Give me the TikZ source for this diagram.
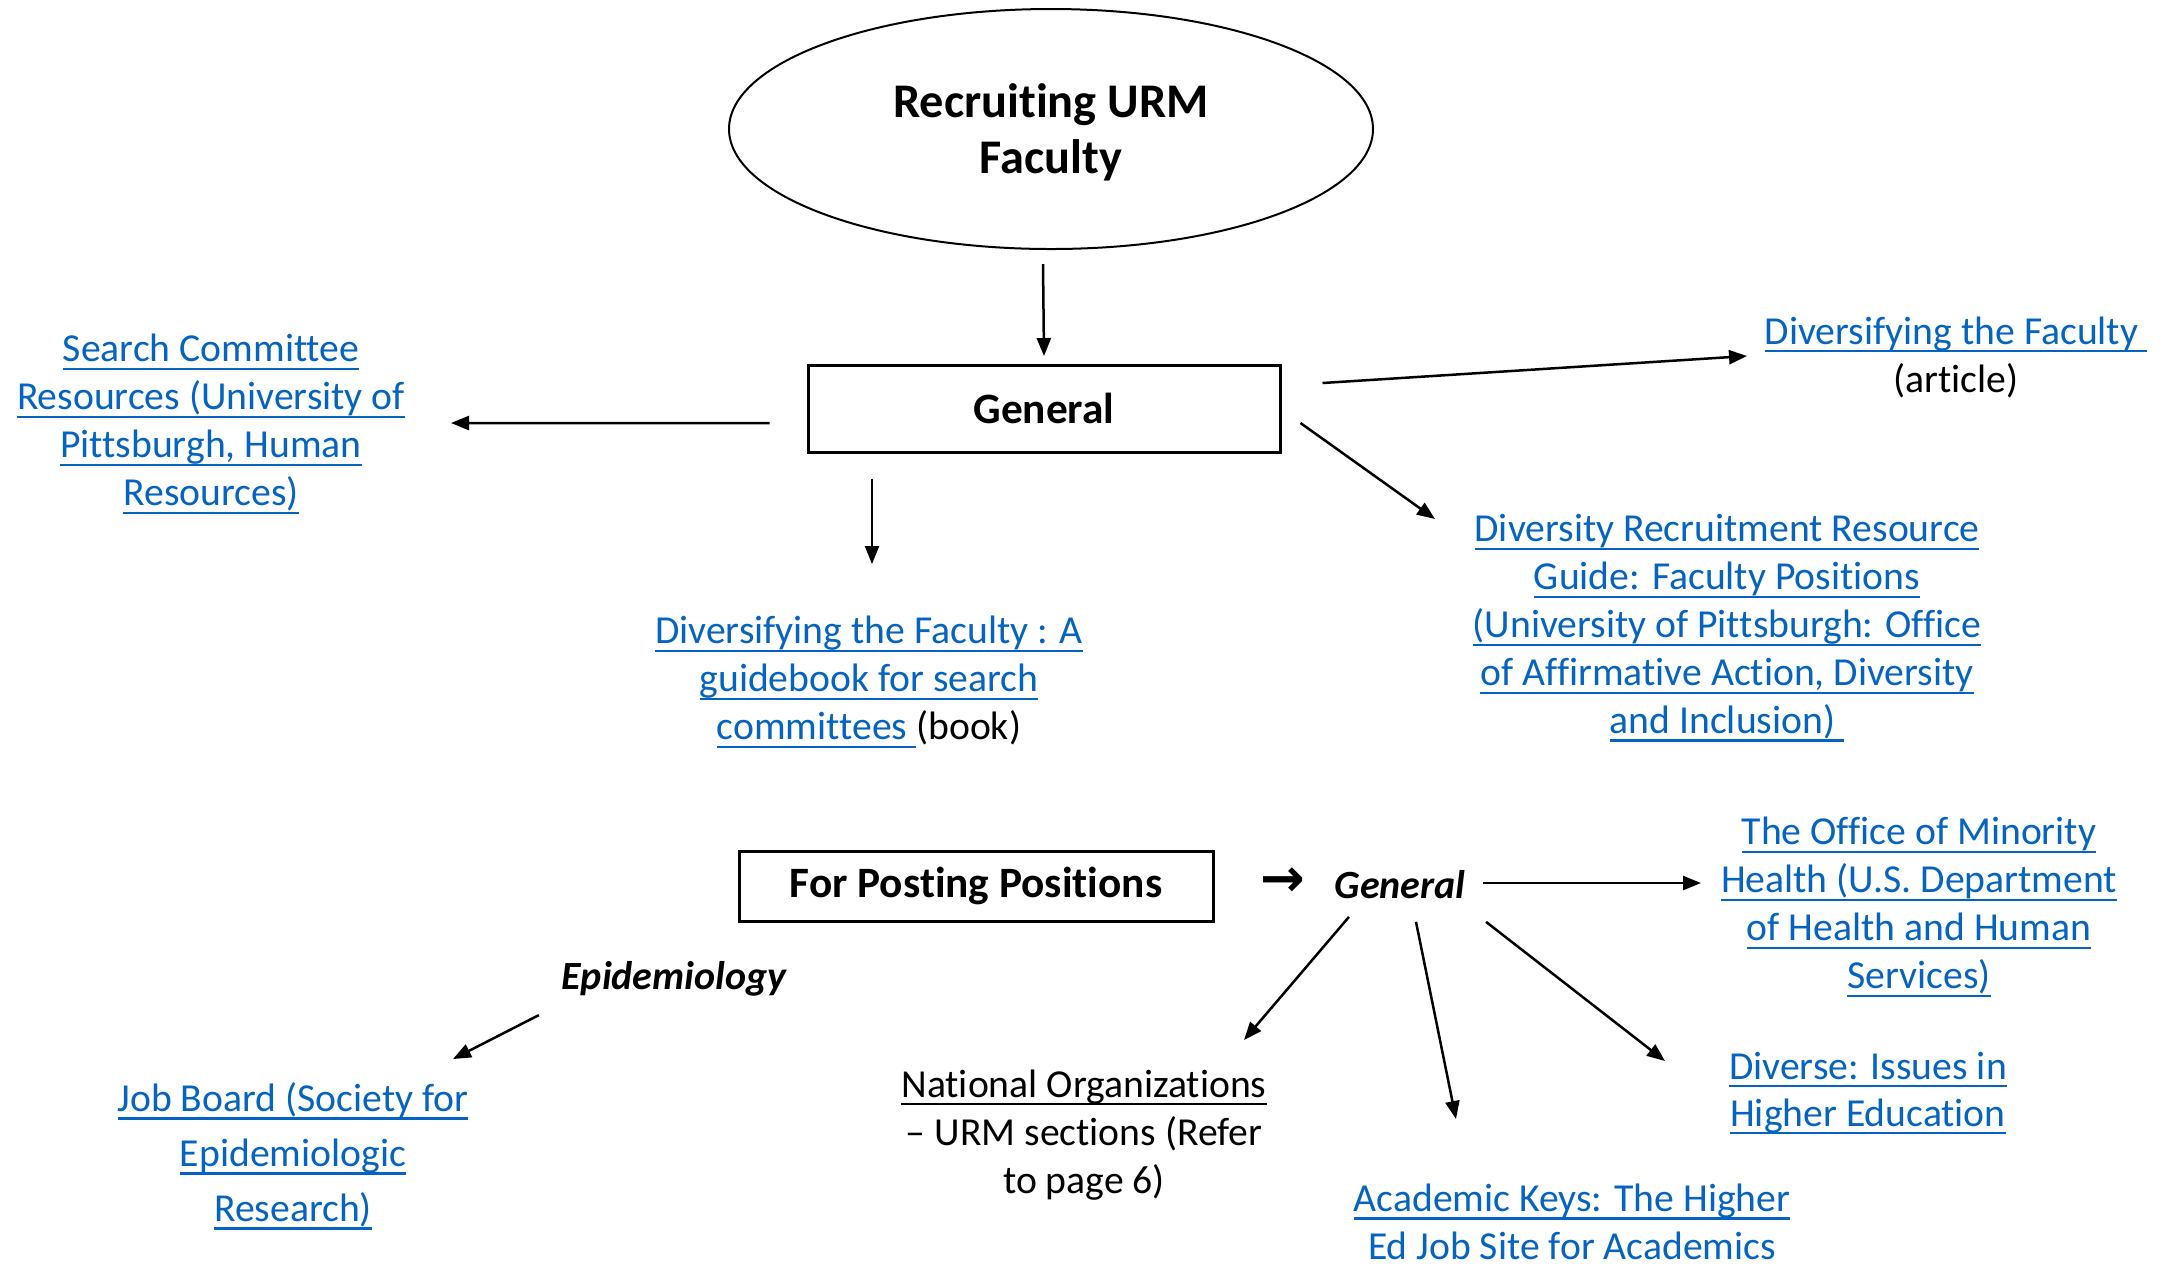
\documentclass[tikz,border=0pt]{standalone}
\usepackage{fontspec}
\setmainfont[Ligatures=NoCommon]{Carlito}
\newfontfamily\symfont{DejaVu Sans}
\usetikzlibrary{shapes.geometric,arrows.meta,calc}
\definecolor{link}{HTML}{0563C1}
\newcommand{\myul}[1]{\setbox0\hbox{#1}\rlap{\rule[-2.4pt]{\wd0}{0.65pt}}\box0}
\newcommand{\lk}[1]{\textcolor{link}{\myul{#1}}}
\newcommand{\pl}[1]{\myul{#1}}
\begin{document}
\begin{tikzpicture}[x=0.3pt,y=-0.3pt,
  txt/.style={align=center, font=\fontsize{11.9pt}{14.4pt}\selectfont, inner sep=0pt},
  boxnode/.style={draw, line width=0.9pt, font=\fontsize{13pt}{15pt}\selectfont\bfseries, inner sep=0pt},
  arr/.style={-{Triangle[length=5.4pt,width=4.2pt]}, line width=0.75pt},
  ital/.style={font=\fontsize{12pt}{14pt}\selectfont\bfseries\itshape, inner sep=0pt}]
\useasboundingbox (0,0) rectangle (2174,1265);

% nodes
\node[ellipse, draw, line width=0.6pt, minimum width=193.2pt, minimum height=72pt, inner sep=0pt] (ell) at (1051,129) {};
\node[align=center, inner sep=0pt, font=\fontsize{14.5pt}{16.8pt}\selectfont\bfseries] (title) at (1051,132) {Recruiting URM\\Faculty};
\node[boxnode, minimum width=141.6pt, minimum height=26.1pt] (gen) at (1044,408.5) {General};
\node[txt] (search) at (211,424) {\lk{Search Committee}\\\lk{Resources (University of}\\\lk{Pittsburgh, Human}\\\lk{Resources)}};
\node[txt] (divfac) at (1956,357) {\lk{Diversifying the Faculty\ }\\(article)};
\node[txt] (divrec) at (1727,628) {\lk{Diversity Recruitment Resource}\\\lk{Guide: Faculty Positions}\\\lk{(University of Pittsburgh: Office}\\\lk{of Affirmative Action, Diversity}\\\lk{and Inclusion)\ }};
\node[txt] (guide) at (869,682) {\lk{Diversifying the Faculty : A}\\\lk{guidebook for search}\\\lk{committees\ }(book)};

\node[boxnode, minimum width=142.2pt, minimum height=21pt] (post) at (976,886) {For Posting Positions};
\node[inner sep=0pt, font=\symfont\fontsize{16pt}{16pt}\selectfont\bfseries] (arrtxt) at (1283,882) {→};
\node[ital] (gen2) at (1400,885) {General};
\node[txt] (office) at (1919,907) {\lk{The Office of Minority}\\\lk{Health (U.S. Department}\\\lk{of Health and Human}\\\lk{Services)}};
\node[txt] (natl) at (1084,1135) {\pl{National Organizations}\\– URM sections (Refer\\to page 6)};
\node[txt] (acad) at (1572,1222) {\lk{Academic Keys: The Higher}\\\textcolor{link}{Ed Job Site for Academics}};
\node[txt, font=\fontsize{11.9pt}{14.1pt}\selectfont] (diverse) at (1868,1093) {\lk{Diverse: Issues in}\\\lk{Higher Education}};
\node[ital] (epi) at (674,979) {Epidemiology};
\node[txt, font=\fontsize{11.9pt}{16.5pt}\selectfont] (job) at (293,1156) {\lk{Job Board (Society for}\\\lk{Epidemiologic}\\\lk{Research)}};

% connector ends
\coordinate (h1) at (1044,356);
\coordinate (h2) at (451,423);
\coordinate (h3) at (1747,356);
\coordinate (h4) at (1435,519);
\coordinate (h5) at (872,564);
\coordinate (h6) at (1701,883);
\coordinate (h7) at (1244,1040);
\coordinate (h8) at (1456,1119);
\coordinate (h9) at (1665,1061);
\coordinate (h10) at (453,1059);

% connectors
\draw[arr] ($(ell.south)+(-8,14)$) -- (h1);
\draw[arr] ($(gen.west)+(-37,14.5)$) -- (h2);
\draw[arr] ($(gen.east)+(41,-25.5)$) -- (h3);
\draw[arr] ($(gen.east)+(19,14.5)$) -- (h4);
\draw[arr] ($(gen.south)+(-172,25)$) -- (h5);
\draw[arr] ($(gen2.east)+(17,-2)$) -- (h6);
\draw[arr] ($(gen2.south)+(-51,17)$) -- (h7);
\draw[arr] ($(gen2.south)+(16,22)$) -- (h8);
\draw[arr] ($(gen2.south)+(86,22)$) -- (h9);
\draw[arr] ($(epi.south west)+(-22,18)$) -- (h10);
\end{tikzpicture}
\end{document}
